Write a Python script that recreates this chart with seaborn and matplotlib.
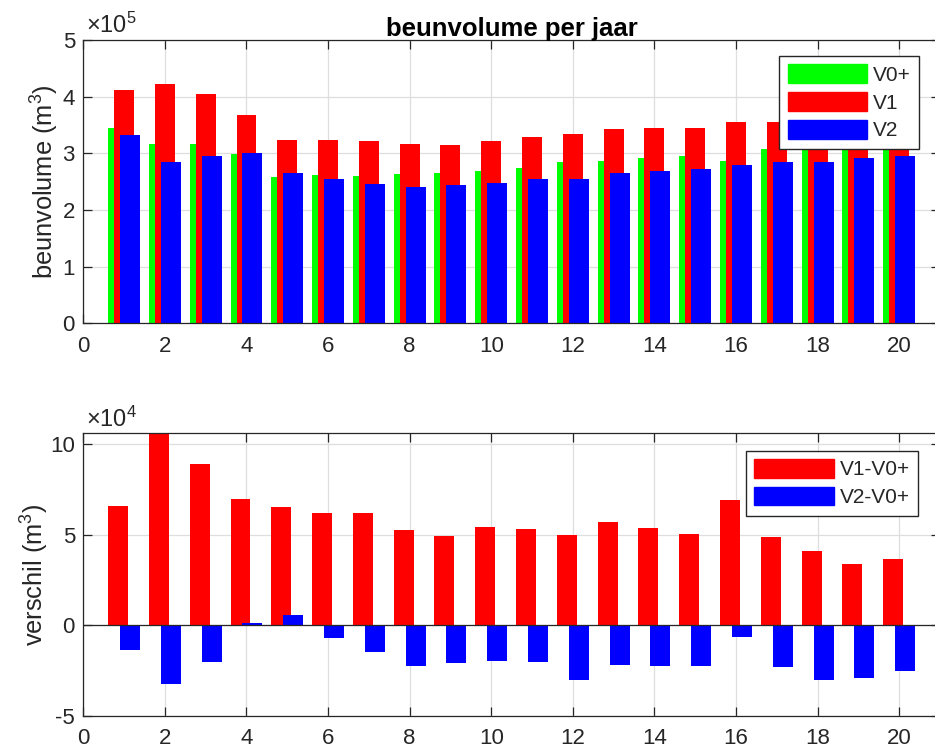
import numpy as np
import pandas as pd
import matplotlib
matplotlib.use('Agg')
import matplotlib.pyplot as plt
import seaborn as sns
from matplotlib.patches import Patch

# values
jaar = np.arange(1, 21)

# beunvolume per jaar (x 1e5 m3)
v0plus = [3.45, 3.17, 3.16, 2.98, 2.59, 2.61, 2.60, 2.64, 2.66, 2.68,
          2.75, 2.85, 2.86, 2.92, 2.95, 2.87, 3.07, 3.15, 3.21, 3.21]
v1 = [4.11, 4.23, 4.05, 3.68, 3.24, 3.23, 3.22, 3.16, 3.15, 3.22,
      3.29, 3.34, 3.43, 3.45, 3.45, 3.56, 3.56, 3.56, 3.55, 3.58]
v2 = [3.32, 2.85, 2.96, 3.00, 2.65, 2.54, 2.46, 2.41, 2.45, 2.48,
      2.55, 2.55, 2.65, 2.69, 2.72, 2.80, 2.85, 2.85, 2.92, 2.96]

# verschil (x 1e4 m3)
v1_v0 = [6.60, 10.6, 8.90, 6.99, 6.53, 6.18, 6.18, 5.24, 4.93, 5.43,
         5.33, 4.98, 5.68, 5.39, 5.06, 6.90, 4.87, 4.08, 3.38, 3.68]
v2_v0 = [-1.34, -3.23, -2.04, 0.13, 0.57, -0.72, -1.45, -2.26, -2.06, -1.97,
         -2.04, -3.00, -2.17, -2.26, -2.22, -0.66, -2.31, -3.03, -2.88, -2.50]

groen = '#00ff00'
rood = '#ff0000'
blauw = '#0000ff'
donker = '0.15'

sns.set_theme(style='white')
plt.rcParams['font.family'] = ['Liberation Sans', 'DejaVu Sans']
plt.rcParams['mathtext.fontset'] = 'custom'
plt.rcParams['mathtext.rm'] = 'Liberation Sans'
plt.rcParams['mathtext.it'] = 'Liberation Sans:italic'
plt.rcParams['mathtext.bf'] = 'Liberation Sans:bold'
plt.rcParams['mathtext.default'] = 'regular'

fig = plt.figure(figsize=(9.35, 7.54), dpi=100)
ax1 = fig.add_axes([0.0891, 0.5712, 0.9163, 0.3757])
ax2 = fig.add_axes([0.0891, 0.0504, 0.9163, 0.3749])

dx = 0.147
bw = 0.49

df_top = pd.DataFrame({'jaar': jaar, 'V0+': v0plus, 'V1': v1, 'V2': v2})
df_bot = pd.DataFrame({'jaar': jaar, 'V1-V0+': v1_v0, 'V2-V0+': v2_v0})

# bovenste paneel
sns.barplot(x=df_top['jaar'] - dx, y=df_top['V0+'], native_scale=True, width=bw,
            color=groen, saturation=1, linewidth=0, errorbar=None, ax=ax1)
sns.barplot(x=df_top['jaar'].astype(float), y=df_top['V1'], native_scale=True, width=bw,
            color=rood, saturation=1, linewidth=0, errorbar=None, ax=ax1)
sns.barplot(x=df_top['jaar'] + dx, y=df_top['V2'], native_scale=True, width=bw,
            color=blauw, saturation=1, linewidth=0, errorbar=None, ax=ax1)

# onderste paneel
sns.barplot(x=df_bot['jaar'] - dx, y=df_bot['V1-V0+'], native_scale=True, width=bw,
            color=rood, saturation=1, linewidth=0, errorbar=None, ax=ax2)
sns.barplot(x=df_bot['jaar'] + dx, y=df_bot['V2-V0+'], native_scale=True, width=bw,
            color=blauw, saturation=1, linewidth=0, errorbar=None, ax=ax2)
ax2.axhline(0, color=donker, lw=0.9, zorder=3)

for ax in (ax1, ax2):
    ax.set_xlim(0, 21)
    ax.set_xticks(range(0, 21, 2))
    ax.set_xticklabels([str(t) for t in range(0, 21, 2)])
    ax.grid(True, color='0.87', lw=0.9)
    ax.set_axisbelow(True)
    for s in ax.spines.values():
        s.set_visible(True)
        s.set_color(donker)
        s.set_linewidth(0.9)
    ax.tick_params(direction='in', length=6.5, width=0.9, color=donker,
                   labelcolor=donker, labelsize=16, top=True, right=True,
                   bottom=True, left=True)
    ax.tick_params(axis='x', pad=9)
    ax.tick_params(axis='y', pad=6)
    ax.set_xlabel('')

ax1.set_ylim(0, 5)
ax1.set_yticks(range(0, 6))
ax1.set_yticklabels([str(t) for t in range(0, 6)])
ax2.set_ylim(-5, 10.6)
ax2.set_yticks([-5, 0, 5, 10])
ax2.set_yticklabels(['-5', '0', '5', '10'])

ax1.set_ylabel('beunvolume (m$^3$)', fontsize=18.3, color=donker)
ax1.yaxis.set_label_coords(-0.026, 0.5)
ax2.set_ylabel('verschil (m$^3$)', fontsize=18.3, color=donker)
ax2.yaxis.set_label_coords(-0.038, 0.5)

ax1.set_title('beunvolume per jaar', fontsize=18.5, fontweight='bold', color='black', pad=3)

ax1.text(0.003, 1.025, '×10$^{5}$', transform=ax1.transAxes, ha='left',
         va='baseline', fontsize=17, color=donker)
ax2.text(0.003, 1.023, '×10$^{4}$', transform=ax2.transAxes, ha='left',
         va='baseline', fontsize=17, color=donker)

leg_kw = dict(loc='upper right', borderaxespad=0, fontsize=15, fancybox=False,
              framealpha=1, edgecolor=donker, handlelength=3.8, handleheight=1.0,
              handletextpad=0.3, labelspacing=0.35, borderpad=0.4)
l1 = ax1.legend(handles=[Patch(color=groen, label='V0+'), Patch(color=rood, label='V1'),
                         Patch(color=blauw, label='V2')],
                bbox_to_anchor=(0.9755, 0.9435), **leg_kw)
l2 = ax2.legend(handles=[Patch(color=rood, label='V1-V0+'), Patch(color=blauw, label='V2-V0+')],
                bbox_to_anchor=(0.9747, 0.9385), **leg_kw)
for lg in (l1, l2):
    lg.get_frame().set_linewidth(1.0)
    for t in lg.get_texts():
        t.set_color(donker)

fig.savefig('out.png', dpi=100)
